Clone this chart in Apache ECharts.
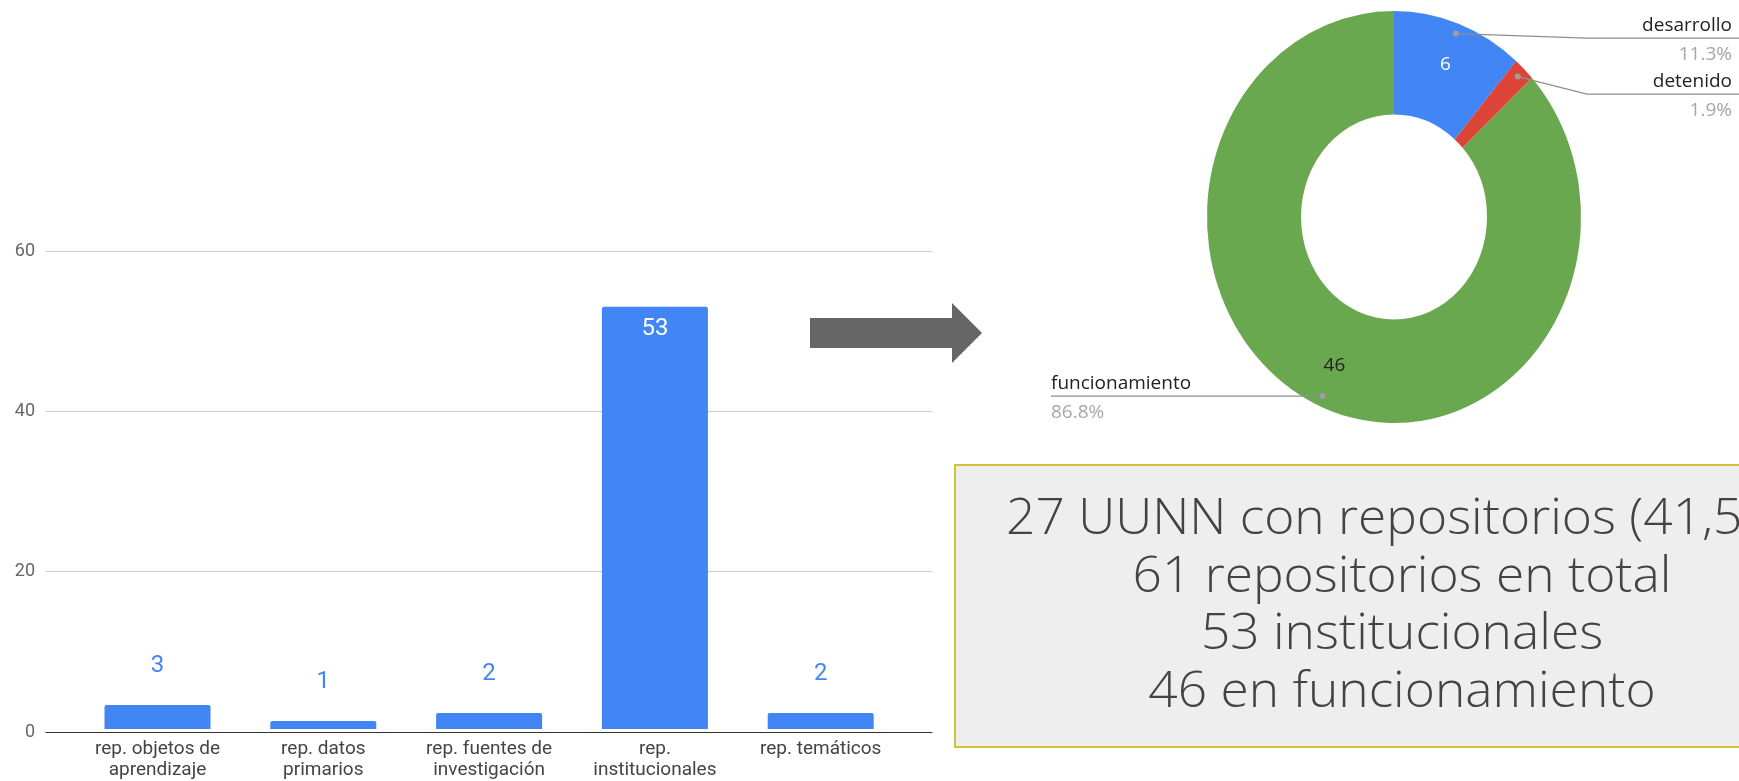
<!DOCTYPE html>
<html>
<head>
<meta charset="utf-8">
<script src="https://cdn.jsdelivr.net/npm/echarts@6/dist/echarts.min.js"></script>
<style>
html,body{margin:0;padding:0;background:#fff;}
#main{width:1739px;height:781px;}
</style>
</head>
<body>
<div id="main"></div>
<script>
// barras: tipos de repositorio
var categories = ['rep. objetos de\naprendizaje', 'rep. datos\nprimarios', 'rep. fuentes de\ninvestigación', 'rep.\ninstitucionales', 'rep. temáticos'];
var counts = [3, 1, 2, 53, 2];
var yTicks = [0, 20, 40, 60];

// anillo: estado de los repositorios institucionales
var statusNames = ['desarrollo', 'detenido', 'funcionamiento'];
var statusValues = [6, 1, 46];

// recuadro de resumen
var summaryLines = ['27 UUNN con repositorios (41,5%)', '61 repositorios en total', '53 institucionales', '46 en funcionamiento'];

var sliceColors = ['#4285f4', '#db4437', '#6aa84f'];
var sliceLabelColors = ['#ffffff', '#ffffff', '#222222'];
var pie = {cx: 1394, cy: 217, r: 187, r0: 93, sy: 206 / 187};
var W = 1739;

var total = 0;
for (var i = 0; i < statusValues.length; i++) total += statusValues[i];

// posiciones de etiquetas del anillo (lineas guia)
function donutLayout() {
	var out = [];
	var acc = 0;
	var lastRight = -1000;
	for (var i = 0; i < statusValues.length; i++) {
		var a0 = -Math.PI / 2 + acc / total * Math.PI * 2;
		acc += statusValues[i];
		var a1 = -Math.PI / 2 + acc / total * Math.PI * 2;
		var mid = (a0 + a1) / 2;
		var pt = function (f) {
			return [pie.cx + pie.r * f * Math.cos(mid), pie.cy + pie.r * pie.sy * f * Math.sin(mid)];
		};
		var dot = pt(0.95);
		var item = {a0: a0, a1: a1, lab: pt(0.79), dot: dot, right: Math.cos(mid) > 0};
		if (item.right) {
			item.lineY = Math.max(dot[1] + 4.5, lastRight + 56);
			lastRight = item.lineY;
		} else {
			item.lineY = dot[1];
		}
		out.push(item);
	}
	return out;
}
var layout = donutLayout();

function renderDonut(params, api) {
	var i = params.dataIndex;
	var v = api.value(0);
	var L = layout[i];
	var font = 'Open Sans';
	var pct = (v / total * 100).toFixed(1) + '%';
	var children = [{
		type: 'sector',
		shape: {cx: pie.cx, cy: pie.cy, r: pie.r, r0: pie.r0, startAngle: L.a0, endAngle: L.a1, clockwise: true},
		originX: pie.cx, originY: pie.cy, scaleY: pie.sy,
		style: {fill: sliceColors[i]}
	}];
	if (v / total > 0.05) {
		children.push({
			type: 'text',
			style: {text: String(v), x: L.lab[0], y: L.lab[1], fill: sliceLabelColors[i], fontSize: 19, fontFamily: font,
				align: 'center', verticalAlign: 'middle', textAlign: 'center', textVerticalAlign: 'middle'}
		});
	}
	var pts, tx, al;
	if (L.right) {
		pts = [L.dot, [pie.cx + 193, L.lineY], [W, L.lineY]];
		tx = W - 7; al = 'right';
	} else {
		pts = [L.dot, [pie.cx - 343, L.lineY]];
		tx = pie.cx - 343; al = 'left';
	}
	children.push({type: 'polyline', shape: {points: pts}, style: {stroke: '#8e8e8e', lineWidth: 1.2, fill: null}});
	children.push({type: 'circle', shape: {cx: L.dot[0], cy: L.dot[1], r: 3}, style: {fill: '#9e9e9e'}});
	children.push({
		type: 'text',
		style: {text: statusNames[i], x: tx, y: L.lineY - 3, fill: '#222', fontSize: 19, fontFamily: font,
			align: al, verticalAlign: 'bottom', textAlign: al, textVerticalAlign: 'bottom'}
	});
	children.push({
		type: 'text',
		style: {text: pct, x: tx, y: L.lineY + 7, fill: '#a6a6a6', fontSize: 19, fontFamily: font,
			align: al, verticalAlign: 'top', textAlign: al, textVerticalAlign: 'top'}
	});
	return {type: 'group', children: children};
}

var barData = [];
for (var j = 0; j < counts.length; j++) {
	if (counts[j] > 30) {
		barData.push({value: counts[j], label: {position: 'insideTop', distance: 10, color: '#ffffff'}});
	} else {
		barData.push(counts[j]);
	}
}

var graphics = [
	{type: 'polygon', shape: {points: [[810, 318], [952, 318], [952, 303], [982, 333], [952, 363], [952, 348], [810, 348]]},
		style: {fill: '#666666'}},
	{type: 'rect', shape: {x: 955, y: 465, width: 820, height: 282}, style: {fill: '#eeeeee', stroke: '#d3c433', lineWidth: 2}}
];
for (var s = 0; s < summaryLines.length; s++) {
	var ty = 520 + s * 57.7;
	graphics.push({
		type: 'text',
		scaleX: 1.05, originX: 1402, originY: ty,
		style: {text: summaryLines[s], x: 1402, y: ty, fill: '#434343', fontSize: 49, fontFamily: 'Open Sans', fontWeight: 300,
			align: 'center', verticalAlign: 'middle', textAlign: 'center', textVerticalAlign: 'middle'}
	});
}

var myChart = echarts.init(document.getElementById('main'));
var option = {
	animation: false,
	backgroundColor: '#ffffff',
	grid: [
		{left: 46, right: W - 932, top: 251, bottom: 49},
		{left: 74.6, right: W - 903.6, top: 251, bottom: 49}
	],
	xAxis: [
		{type: 'value', gridIndex: 0, min: 0, max: 1, axisLabel: {show: false}, axisTick: {show: false}, splitLine: {show: false},
			axisLine: {show: true, lineStyle: {color: '#333', width: 1.2}}},
		{type: 'category', gridIndex: 1, data: categories, axisLine: {show: false}, axisTick: {show: false},
			axisLabel: {interval: 0, margin: 10, color: '#444', fontSize: 19, lineHeight: 21, fontFamily: 'Roboto'}}
	],
	yAxis: [
		{type: 'value', gridIndex: 0, min: yTicks[0], max: yTicks[yTicks.length - 1], interval: yTicks[1] - yTicks[0],
			axisLine: {show: false}, axisTick: {show: false},
			axisLabel: {margin: 11, color: '#666', fontSize: 18, fontFamily: 'Roboto'},
			splitLine: {lineStyle: {color: '#cccccc', width: 1}}},
		{type: 'value', gridIndex: 1, min: yTicks[0], max: yTicks[yTicks.length - 1], show: false}
	],
	series: [
		{
			type: 'bar', xAxisIndex: 1, yAxisIndex: 1, data: barData, barWidth: 106,
			itemStyle: {color: '#4285f4', borderRadius: [2, 2, 0, 0]},
			label: {show: true, position: 'top', distance: 27, color: '#4285f4', fontSize: 24, fontFamily: 'Roboto'}
		},
		{
			type: 'custom', coordinateSystem: 'none', data: statusValues, renderItem: renderDonut, silent: true
		}
	],
	graphic: graphics
};
myChart.setOption(option);
window.addEventListener('resize', function () {
	myChart.resize();
});
</script>
</body>
</html>
